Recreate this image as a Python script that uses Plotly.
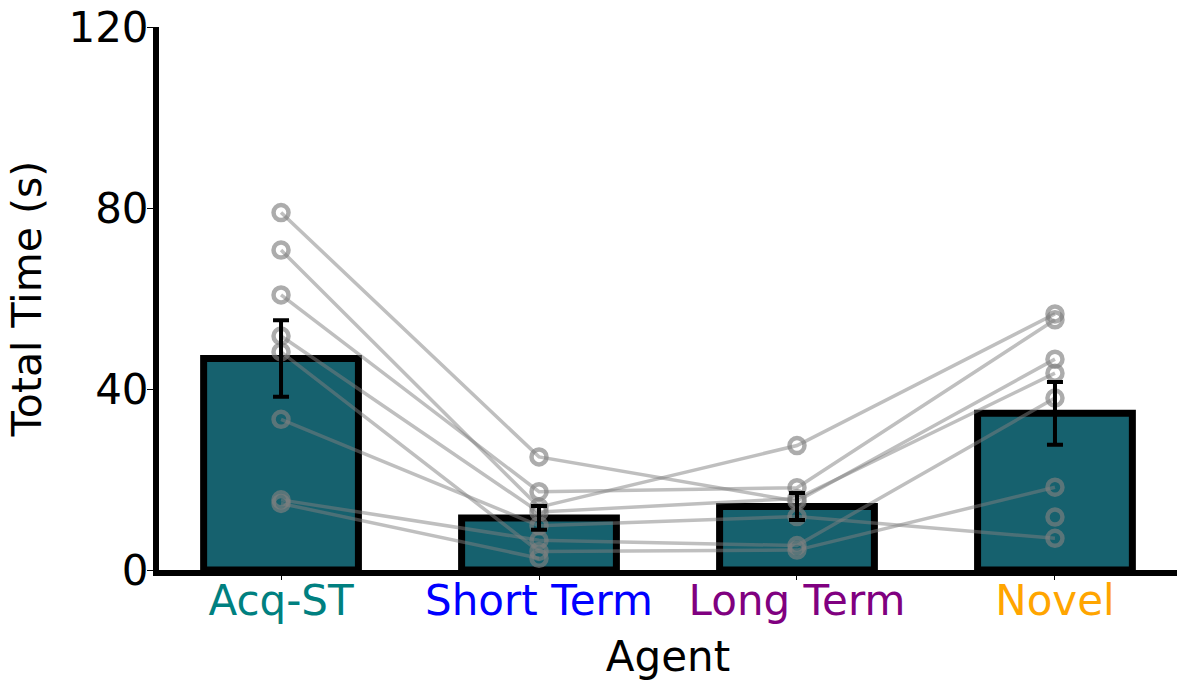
import numpy as np
import plotly.graph_objects as go

categories = ["Acq-ST", "Short Term", "Long Term", "Novel"]
cat_colors = ["#008080", "#0000FF", "#800080", "#FFA500"]

# per-participant values (None = missing)
acq_st =     [79.0, 70.7, 60.8, 51.7, 48.2, 33.3, 15.5, 14.7]
short_term = [25.0, 13.9, 17.3, 12.8, 4.1, 9.8, 6.6, 2.6]
long_term =  [15.2, 27.5, 18.2, 15.8, 4.4, 11.8, 5.4, None]
novel =      [46.6, 56.6, 55.3, 43.5, 18.3, 7.0, 38.0, 11.7]

yticks = [0, 40, 80, 120]

data = [acq_st, short_term, long_term, novel]
arr = np.array([[np.nan if v is None else v for v in col] for col in data], dtype=float)
means = np.nanmean(arr, axis=1)
n = np.sum(~np.isnan(arr), axis=1)
sems = np.nanstd(arr, axis=1, ddof=1) / np.sqrt(n)

xpos = list(range(len(categories)))

fig = go.Figure()
fig.add_trace(go.Bar(
    x=xpos, y=means, width=0.6,
    marker=dict(color="#16616E", line=dict(color="black", width=7)),
    showlegend=False, hoverinfo="skip",
))

for i in range(len(acq_st)):
    ys = [acq_st[i], short_term[i], long_term[i], novel[i]]
    fig.add_trace(go.Scatter(
        x=xpos, y=ys, mode="lines+markers", connectgaps=False,
        line=dict(color="rgba(128,128,128,0.5)", width=3.5),
        marker=dict(symbol="circle-open", size=15,
                    color="rgba(128,128,128,0.65)",
                    line=dict(width=4.5, color="rgba(128,128,128,0.65)")),
        showlegend=False, hoverinfo="skip",
    ))

fig.add_trace(go.Scatter(
    x=xpos, y=means, mode="markers",
    marker=dict(size=1, color="rgba(0,0,0,0)"),
    error_y=dict(type="data", array=sems, visible=True,
                 color="black", thickness=4, width=8),
    showlegend=False, hoverinfo="skip",
))

ticktext = [f'<span style="color:{c}">{t}</span>' for t, c in zip(categories, cat_colors)]

fig.update_layout(
    width=1189, height=690,
    margin=dict(l=159, r=12, t=27, b=120),
    plot_bgcolor="white", paper_bgcolor="white",
    font=dict(family="DejaVu Sans", size=42, color="black"),
    xaxis=dict(
        range=[-0.473, 3.473], tickvals=xpos, ticktext=ticktext,
        showline=True, linecolor="black", linewidth=6,
        ticks="outside", ticklen=4, tickwidth=1, tickcolor="black",
        ticklabelstandoff=-15,
        showgrid=False, zeroline=False, automargin=False,
        title=dict(text="Agent", font=dict(size=42), standoff=19),
        tickfont=dict(size=42),
    ),
    yaxis=dict(
        range=[0, 120], tickvals=yticks,
        showline=True, linecolor="black", linewidth=6,
        ticks="outside", ticklen=6, tickwidth=1, tickcolor="black",
        ticklabelstandoff=-10,
        showgrid=False, zeroline=False, automargin=False,
        title=dict(text="Total Time (s)", font=dict(size=41), standoff=16),
        tickfont=dict(size=42),
    ),
)

fig.write_html("out.html")
